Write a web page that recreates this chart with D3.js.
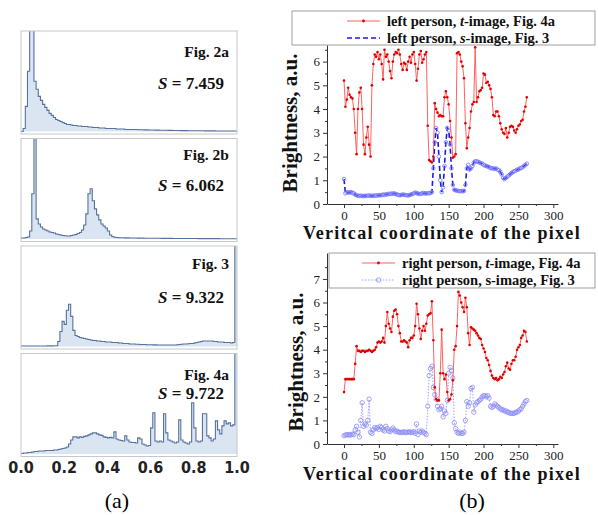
<!DOCTYPE html>
<html>
<head>
<meta charset="utf-8">
<script src="https://cdn.jsdelivr.net/npm/d3@7"></script>
<style>
  body { margin: 0; background: #fff; }
  svg { display: block; }
</style>
</head>
<body>
<svg id="chart" width="598" height="515"></svg>
<script>
// ---- (a) histograms, bins of 0.01, height in % of panel ----
const hist2a = [
  0, 3, 25, 60, 120, 120, 50, 42, 35, 31,
  27, 24, 21, 18, 16, 14, 12, 11, 10, 9,
  8, 7, 7, 6.5, 6, 6, 5.5, 5.5, 5, 5,
  5, 4.5, 4.5, 4, 4, 4, 3.5, 3.5, 3.5, 3,
  3, 3, 3, 3, 2.5, 2.5, 2.5, 2.5, 2, 2,
  2, 2, 2, 2, 1.8, 1.8, 1.8, 1.6, 1.6, 1.5,
  1.5, 1.5, 1.4, 1.4, 1.3, 1.3, 1.2, 1.2, 1.1, 1.1,
  1, 1, 1, 1, 0.9, 0.9, 0.9, 0.8, 0.8, 0.8,
  0.8, 0.7, 0.7, 0.7, 0.7, 0.6, 0.6, 0.6, 0.6, 0.6,
  0.5, 0.5, 0.5, 0.5, 0.5, 0.5, 0.5, 0.5, 0.5, 0.5
];
const hist2b = [
  1, 1, 1.5, 2, 8, 45, 110, 20, 15, 12,
  10, 9, 8, 7, 6.5, 6, 5, 4.5, 4, 3.5,
  3.2, 3, 3, 3.5, 4, 4.5, 5.5, 6.5, 9, 14,
  25, 45, 50, 38, 30, 24, 19, 15, 13, 11,
  8, 4, 2.5, 1.8, 1.5, 1.3, 1.2, 1.2, 1.1, 1.1,
  1, 1, 1, 1, 0.9, 0.9, 0.9, 0.8, 0.8, 0.8,
  0.8, 0.7, 0.7, 0.7, 0.7, 0.6, 0.6, 0.6, 0.6, 0.6,
  0.5, 0.5, 0.5, 0.5, 0.5, 0.5, 0.5, 0.5, 0.5, 0.5,
  0.5, 0.5, 0.4, 0.4, 0.4, 0.4, 0.4, 0.4, 0.4, 0.4,
  0.4, 0.4, 0.3, 0.3, 0.3, 0.3, 0.3, 0.3, 0.3, 0.3
];
const hist3 = [
  0.5, 0.5, 0.5, 0.5, 0.5, 0.5, 0.5, 0.5, 0.5, 0.5,
  0.5, 0.5, 0.6, 0.6, 0.6, 0.7, 0.8, 5, 15, 25,
  22, 36, 42, 30, 16, 11, 10, 9, 8.5, 8,
  7.5, 7, 6.5, 6, 6, 5.5, 5.5, 5, 5, 4.5,
  4.5, 4.5, 4, 4, 4, 3.5, 3.5, 3, 3, 3,
  2.5, 2.5, 2.5, 2.2, 2.2, 2, 2, 2, 1.8, 1.8,
  1.8, 1.6, 1.6, 1.5, 1.5, 1.5, 1.5, 1.5, 1.5, 1.5,
  1.5, 1.5, 1.8, 2, 2.2, 2.5, 2.5, 2.8, 3, 3,
  3.5, 4, 4.5, 5, 5.5, 5.5, 5.5, 5.5, 5.5, 5,
  5, 4.5, 4.5, 4.5, 4, 4, 4, 3.5, 4, 110
];
const hist4a = [
  0.5, 1, 1, 1.5, 1.5, 2, 2.5, 2.5, 3, 3,
  3, 3.5, 3.5, 3.5, 3.5, 4, 4, 4.5, 5, 5.5,
  6, 7, 10, 14, 17, 17, 16, 17, 16.5, 17.5,
  18, 19, 20, 21, 21, 20, 19, 18.5, 17, 16.5,
  16, 16.5, 16, 22, 15, 14, 13.5, 13, 18, 14,
  12, 11.5, 11.5, 11, 16, 15, 10, 9, 8, 8.5,
  26, 41, 13, 12, 13, 12, 40, 21, 14, 13,
  12, 11, 12, 34, 14, 12, 11, 10, 12, 51,
  26, 13, 12, 13, 40, 40, 18, 16, 13, 15,
  33, 24, 20, 28, 33, 30, 31, 28, 29, 110
];
const histNames = ['Fig. 2a', 'Fig. 2b', 'Fig. 3', 'Fig. 4a'];
const histEntropy = ['7.459', '6.062', '9.322', '9.722'];
const histTicks = [0, 0.2, 0.4, 0.6, 0.8, 1.0];

// ---- (b) brightness profiles, every 2nd pixel from 0 to 262 ----
const pixels = d3.range(0, 263, 2);
const leftT = [
  5.2, 4.1, 4.4, 4.9, 4.6, 4.5, 4.45, 4.0, 3.0, 2.1,
  4.0, 4.7, 4.9, 4.0, 2.5, 2.1, 2.8, 3.25, 2.5, 2.0,
  5.0, 5.9, 6.3, 6.2, 6.4, 6.1, 6.3, 5.9, 5.25, 6.5,
  6.2, 6.3, 6.0, 5.6, 5.3, 6.0, 6.3, 6.4, 6.35, 6.5,
  6.3, 5.9, 5.65, 5.95, 5.9, 5.65, 6.0, 6.2, 5.95, 6.3,
  6.4, 5.9, 5.2, 5.7, 6.3, 6.45, 5.95, 6.1, 6.3, 6.4,
  3.3, 1.85, 1.8, 1.75, 2.0, 4.25, 4.0, 3.85, 3.7, 3.75,
  3.7, 3.7, 4.5, 4.75, 4.5, 4.2, 3.5, 2.8, 1.95, 2.0,
  2.1, 6.35, 6.4, 6.3, 6.0, 5.8, 5.3, 3.4, 2.35, 2.8,
  3.2, 3.9, 4.2, 4.3, 6.6, 4.3, 4.5, 4.75, 4.8, 4.9,
  5.5, 5.45, 5.1, 5.15, 5.0, 4.85, 4.5, 3.75, 3.7, 3.9,
  3.9, 3.7, 3.4, 3.15, 3.0, 2.95, 3.2, 2.8, 3.0, 3.25,
  3.3, 3.25, 3.1, 3.0, 3.15, 3.3, 3.35, 3.5, 3.55, 3.9,
  4.1, 4.5
];
const leftS = [
  1.05, 0.45, 0.5, 0.48, 0.48, 0.5, 0.47, 0.45, 0.4, 0.36,
  0.35, 0.34, 0.35, 0.34, 0.33, 0.35, 0.34, 0.35, 0.36, 0.34,
  0.35, 0.34, 0.36, 0.35, 0.37, 0.36, 0.38, 0.37, 0.40, 0.38,
  0.41, 0.40, 0.43, 0.42, 0.44, 0.43, 0.45, 0.42, 0.40, 0.38,
  0.37, 0.38, 0.40, 0.39, 0.38, 0.37, 0.36, 0.38, 0.40, 0.42,
  0.45, 0.48, 0.46, 0.44, 0.42, 0.43, 0.45, 0.46, 0.45, 0.44,
  0.46, 0.45, 0.47, 0.5, 1.5, 2.6, 3.2, 3.0, 2.0, 1.0,
  0.5, 0.7, 1.6, 2.6, 3.2, 3.1, 2.5, 1.5, 0.8, 0.6,
  0.58, 0.56, 0.55, 0.54, 0.55, 0.54, 0.55, 0.8, 1.5, 1.65,
  1.45, 1.5, 1.6, 1.75, 1.8, 1.8, 1.78, 1.75, 1.72, 1.7,
  1.65, 1.62, 1.6, 1.58, 1.55, 1.52, 1.5, 1.5, 1.48, 1.5,
  1.45, 1.42, 1.35, 1.25, 1.1, 1.05, 1.1, 1.15, 1.2, 1.25,
  1.3, 1.35, 1.38, 1.4, 1.45, 1.45, 1.5, 1.52, 1.55, 1.6,
  1.65, 1.7
];
const rightT = [
  2.2, 2.75, 2.75, 2.75, 2.75, 2.75, 2.75, 2.75, 3.4, 4.15,
  3.95, 3.95, 3.9, 3.95, 3.95, 3.9, 3.95, 3.95, 4.0, 3.95,
  3.9, 3.95, 4.0, 4.1, 4.3, 4.35, 4.3, 4.35, 4.5, 4.3,
  5.0, 5.6, 5.1, 4.9, 4.75, 5.4, 5.65, 5.7, 5.5, 5.0,
  4.7, 4.35, 4.35, 4.4, 4.35, 4.3, 4.1, 4.4, 4.5, 4.5,
  4.6, 5.0, 5.95, 5.5, 4.9, 4.45, 4.8, 5.0, 4.8, 5.1,
  5.45, 5.5, 5.55, 6.05, 4.4, 2.4, 1.9, 1.85, 1.85, 3.0,
  4.85, 3.0, 2.75, 2.95, 2.2, 1.85, 1.9, 2.1, 2.7, 4.0,
  4.15, 5.0, 6.45, 6.3, 6.0, 5.8, 5.6, 6.2, 5.8, 4.7,
  4.2, 4.95, 4.9, 4.85, 4.8, 4.7, 4.6, 4.5, 4.45, 4.2,
  4.05, 3.9, 3.65, 3.55, 3.35, 3.1, 2.9, 2.8, 2.75, 2.8,
  2.7, 2.75, 2.85, 2.8, 2.95, 3.05, 3.3, 3.45, 3.2, 3.15,
  3.4, 3.55, 3.55, 3.7, 4.0, 4.1, 4.2, 4.5, 4.6, 4.8,
  4.75, 4.35
];
const rightS = [
  0.35, 0.38, 0.4, 0.38, 0.4, 0.38, 0.42, 0.4, 0.6, 0.75,
  0.5, 0.3, 1.0, 1.75, 0.75, 0.85, 0.8, 1.0, 1.9, 0.5,
  0.45, 0.6, 0.7, 0.65, 0.7, 0.62, 0.75, 0.7, 0.6, 0.55,
  0.75, 0.65, 0.55, 0.52, 0.6, 0.68, 0.6, 0.52, 0.55, 0.5,
  0.5, 0.48, 0.5, 0.52, 0.48, 0.5, 0.5, 0.52, 0.48, 0.5,
  0.52, 0.45, 0.85, 0.4, 0.55, 0.5, 0.55, 0.5, 0.45, 0.4,
  1.6, 2.9, 3.2, 3.3, 2.4, 2.1, 1.9, 1.6, 1.45, 1.5,
  1.6, 1.15, 1.4, 1.3, 1.85, 3.0, 3.25, 3.1, 2.8, 0.9,
  0.65, 0.5, 0.45, 0.5, 0.45, 0.45, 0.5, 1.0, 1.8, 1.6,
  1.75, 2.35, 2.4, 1.35, 1.65, 1.75, 1.8, 1.85, 1.9, 2.0,
  2.05, 2.05, 2.0, 2.05, 1.95, 1.6, 1.55, 1.6, 1.7, 1.65,
  1.6, 1.55, 1.5, 1.45, 1.45, 1.4, 1.4, 1.35, 1.35, 1.3,
  1.3, 1.3, 1.3, 1.35, 1.35, 1.4, 1.45, 1.5, 1.6, 1.7,
  1.8, 1.85
];
const xTicks = [0, 50, 100, 150, 200, 250, 300];

const svg = d3.select('#chart');
const serif = '"Liberation Serif", "Times New Roman", serif';
const narrow = '"Liberation Sans Narrow", "Arial Narrow", "DejaVu Sans Condensed", sans-serif';

// ---------- (a) ----------
const hx = d3.scaleLinear().domain([0, 1]).range([21, 237]);
const panelTop = [31, 138.5, 246, 353.5];
const panelH = 103;
const figBase = [57, 160, 269, 380];
const sBase = [89, 191, 303, 399];

[hist2a, hist2b, hist3, hist4a].forEach((bins, i) => {
    const top = panelTop[i];
    const base = top + panelH - 2.5;
    const hy = d3.scaleLinear().domain([0, 100]).range([base, top]);
    const g = svg.append('g');

    g.append('clipPath').attr('id', 'clip' + i)
        .append('rect')
        .attr('x', hx(0)).attr('y', top)
        .attr('width', hx(1) - hx(0)).attr('height', panelH);

    const pts = bins.map((v, j) => ({ x: j / bins.length, v: v }));
    pts.push({ x: 1, v: bins[bins.length - 1] });

    const area = d3.area()
        .x(d => hx(d.x)).y0(base).y1(d => hy(d.v))
        .curve(d3.curveStepAfter);
    const line = d3.line()
        .x(d => hx(d.x)).y(d => hy(d.v))
        .curve(d3.curveStepAfter);

    const inner = g.append('g').attr('clip-path', `url(#clip${i})`);
    inner.append('path').datum(pts)
        .attr('d', area)
        .attr('fill', '#dbe4f1');
    inner.append('path').datum(pts)
        .attr('d', line)
        .attr('fill', 'none')
        .attr('stroke', '#55739f')
        .attr('stroke-width', 1.1);

    g.append('rect')
        .attr('x', hx(0)).attr('y', top)
        .attr('width', hx(1) - hx(0)).attr('height', panelH)
        .attr('fill', 'none')
        .attr('stroke', '#c4c8cc')
        .attr('stroke-width', 1);

    g.append('text')
        .attr('x', 229).attr('y', figBase[i])
        .attr('text-anchor', 'end')
        .attr('font-family', serif).attr('font-weight', 'bold')
        .attr('font-size', '15.5px').attr('fill', '#111')
        .text(histNames[i]);

    const s = g.append('text')
        .attr('x', 224).attr('y', sBase[i])
        .attr('text-anchor', 'end')
        .attr('font-family', serif).attr('font-weight', 'bold')
        .attr('font-size', '17px').attr('fill', '#111');
    s.append('tspan').attr('font-style', 'italic').text('S');
    s.append('tspan').text(' = ' + histEntropy[i]);
});

svg.append('g').selectAll('text')
    .data(histTicks)
    .enter()
    .append('text')
    .attr('x', d => hx(d))
    .attr('y', 473)
    .attr('text-anchor', 'middle')
    .attr('font-family', narrow).attr('font-weight', 'bold')
    .attr('font-size', '16px').attr('fill', '#222')
    .text(d => d.toFixed(1));

svg.append('text')
    .attr('x', 117).attr('y', 508)
    .attr('text-anchor', 'middle')
    .attr('font-family', serif).attr('font-size', '22px')
    .text('(a)');

// ---------- (b) ----------
const xs = d3.scaleLinear().domain([-24.4, 306.7]).range([327, 558]);

function drawPlot(cfg) {
    const ys = d3.scaleLinear().domain([0, cfg.ymax]).range([cfg.y0, cfg.yTop]);
    const g = svg.append('g');

    // axes
    const yAxis = g.append('g').attr('transform', 'translate(327,0)')
        .call(d3.axisLeft(ys).tickValues(d3.range(0, cfg.yTickMax + 1, 1))
            .tickFormat(d3.format('d')).tickSize(4).tickSizeOuter(0));
    g.append('g').attr('transform', 'translate(327,0)')
        .call(d3.axisLeft(ys).tickValues(d3.range(0.5, cfg.ymax, 1)).tickSize(2).tickFormat(''))
        .select('.domain').remove();
    yAxis.selectAll('text')
        .attr('font-family', serif).attr('font-size', '13px').attr('fill', '#222');

    const xAxis = g.append('g').attr('transform', `translate(0,${cfg.y0})`)
        .call(d3.axisBottom(xs).tickValues(xTicks).tickSize(4).tickSizeOuter(0));
    g.append('g').attr('transform', `translate(0,${cfg.y0})`)
        .call(d3.axisBottom(xs).tickValues([25, 75, 125, 175, 225, 275]).tickSize(2).tickFormat(''))
        .select('.domain').remove();
    xAxis.selectAll('text')
        .attr('font-family', serif).attr('font-size', '13px').attr('fill', '#222');
    g.selectAll('.domain, .tick line').attr('stroke', '#333');

    g.append('text')
        .attr('transform', `translate(${cfg.ylabX},${cfg.ylabY}) rotate(-90)`)
        .attr('text-anchor', 'middle')
        .attr('font-family', serif).attr('font-weight', 'bold')
        .attr('font-size', '21px').attr('fill', '#111')
        .text('Brightness, a.u.');
    g.append('text')
        .attr('x', 442).attr('y', cfg.xlabY)
        .attr('text-anchor', 'middle')
        .attr('font-family', serif).attr('font-weight', 'bold')
        .attr('font-size', '18px').attr('letter-spacing', '1.3px').attr('fill', '#111')
        .text(cfg.xlabel);

    const line = d3.line().x((d, i) => xs(pixels[i])).y(d => ys(d));

    // s-image series
    g.append('path').datum(cfg.s)
        .attr('d', line)
        .attr('fill', 'none')
        .attr('stroke', cfg.sLine)
        .attr('stroke-width', cfg.sWidth)
        .attr('stroke-dasharray', cfg.sDash);
    g.append('g').selectAll('circle')
        .data(cfg.s)
        .enter()
        .append('circle')
        .attr('cx', (d, i) => xs(pixels[i]))
        .attr('cy', d => ys(d))
        .attr('r', cfg.sR)
        .attr('fill', 'none')
        .attr('stroke', cfg.sMark)
        .attr('stroke-width', 0.8);

    // t-image series
    g.append('path').datum(cfg.t)
        .attr('d', line)
        .attr('fill', 'none')
        .attr('stroke', '#ff5050')
        .attr('stroke-width', 0.9);
    g.append('g').selectAll('circle')
        .data(cfg.t)
        .enter()
        .append('circle')
        .attr('cx', (d, i) => xs(pixels[i]))
        .attr('cy', d => ys(d))
        .attr('r', 1.3)
        .attr('fill', '#e00000');

    // legend
    const lg = g.append('g');
    lg.append('rect')
        .attr('x', cfg.legX).attr('y', cfg.legY)
        .attr('width', 595 - cfg.legX).attr('height', cfg.legH)
        .attr('fill', '#fff').attr('stroke', '#888').attr('stroke-width', 0.8);
    const sx1 = cfg.legX + cfg.sampleOff, sx2 = sx1 + 33;
    lg.append('line')
        .attr('x1', sx1).attr('x2', sx2).attr('y1', cfg.legY + 10).attr('y2', cfg.legY + 10)
        .attr('stroke', '#ff5050').attr('stroke-width', 0.9);
    lg.append('circle')
        .attr('cx', (sx1 + sx2) / 2).attr('cy', cfg.legY + 10).attr('r', 1.4).attr('fill', '#e00000');
    lg.append('line')
        .attr('x1', sx1).attr('x2', sx2).attr('y1', cfg.legY + 27).attr('y2', cfg.legY + 27)
        .attr('stroke', cfg.sLine).attr('stroke-width', cfg.sWidth)
        .attr('stroke-dasharray', cfg.sDash);
    if (cfg.legendMark) {
        lg.append('circle')
            .attr('cx', (sx1 + sx2) / 2).attr('cy', cfg.legY + 27).attr('r', cfg.sR)
            .attr('fill', 'none').attr('stroke', cfg.sMark).attr('stroke-width', 0.8);
    }
    cfg.legend.forEach((parts, k) => {
        const t = lg.append('text')
            .attr('x', sx2 + 7).attr('y', cfg.legY + 14.5 + k * 17)
            .attr('font-family', serif).attr('font-weight', 'bold')
            .attr('font-size', '14.5px').attr('fill', '#111');
        parts.forEach(p => {
            t.append('tspan').attr('font-style', p[1] ? 'italic' : 'normal').text(p[0]);
        });
    });
}

drawPlot({
    t: leftT, s: leftS, ymax: 6.7, yTickMax: 6, y0: 204, yTop: 45,
    ylabX: 297, ylabY: 123, xlabY: 239,
    xlabel: 'Veritcal coordinate of the pixel',
    sLine: '#1a1ae6', sWidth: 1.6, sDash: '5,3', sMark: '#7474ff', sR: 1.8,
    legendMark: false,
    legX: 292, legY: 11, legH: 34, sampleOff: 55,
    legend: [
        [['left person, ', false], ['t', true], ['-image, Fig. 4a', false]],
        [['left person, ', false], ['s', true], ['-image, Fig. 3', false]]
    ]
});

drawPlot({
    t: rightT, s: rightS, ymax: 8.1, yTickMax: 7, y0: 444, yTop: 253,
    ylabX: 303, ylabY: 362, xlabY: 480,
    xlabel: 'Vertical coordinate of the pixel',
    sLine: '#a0a0ff', sWidth: 1, sDash: '1.5,1.5', sMark: '#8c8cf5', sR: 2.2,
    legendMark: true,
    legX: 329, legY: 253, legH: 35, sampleOff: 33,
    legend: [
        [['right person, ', false], ['t', true], ['-image, Fig. 4a', false]],
        [['right person, s-image, Fig. 3', false]]
    ]
});

svg.append('text')
    .attr('x', 472).attr('y', 508)
    .attr('text-anchor', 'middle')
    .attr('font-family', serif).attr('font-size', '22px')
    .text('(b)');
</script>
</body>
</html>
